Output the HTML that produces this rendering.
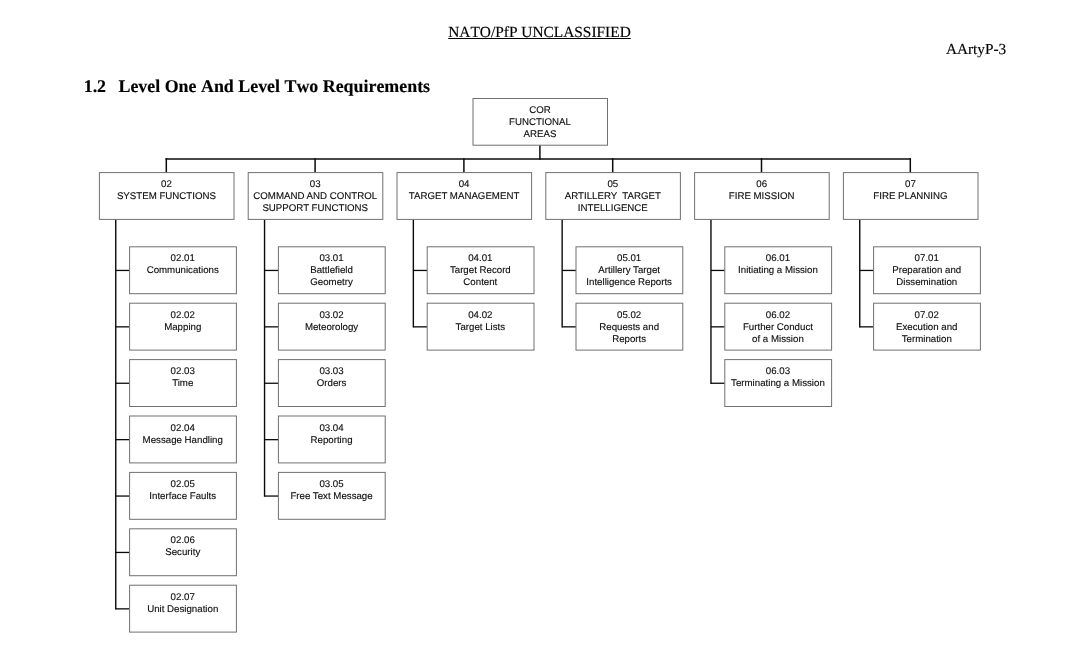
<!DOCTYPE html>
<html><head><meta charset="utf-8"><title>AArtyP-3</title>
<style>
html,body{margin:0;padding:0;background:#fff;}
body{width:1079px;height:651px;position:relative;overflow:hidden;font-family:"Liberation Sans",sans-serif;}
svg{position:absolute;left:0;top:0;}
#wrap{position:absolute;left:0;top:0;width:1079px;height:651px;will-change:transform;background:#fff;}
.t,.h{text-rendering:geometricPrecision;}
.t{position:absolute;text-align:center;font-family:"Liberation Sans",sans-serif;font-size:9.7px;line-height:11.9px;color:#0c0c0c;white-space:nowrap;-webkit-text-stroke:0.12px #0c0c0c;}
.h{position:absolute;font-family:"Liberation Serif",serif;color:#000;-webkit-text-stroke:0.15px #000;white-space:nowrap;line-height:1;font-kerning:none;}
#hdr{left:448.2px;top:24.5px;font-size:15.4px;text-decoration:underline;text-decoration-thickness:1px;text-underline-offset:0.6px;}
#doc{left:945.9px;top:42.0px;font-size:15.3px;}
#ttl{left:83.7px;top:78.2px;font-size:17.9px;font-weight:bold;}
#ttl span{display:inline-block;width:34.8px;}
</style></head><body><div id="wrap">
<div class="h" id="hdr">NATO/PfP UNCLASSIFIED</div>
<div class="h" id="doc">AArtyP-3</div>
<div class="h" id="ttl"><span>1.2</span>Level One And Level Two Requirements</div>
<svg width="1079" height="651" viewBox="0 0 1079 651">
<path d="M166.30 158.90L910.30 158.90" stroke="#0a0a0a" stroke-width="1.5" fill="none" stroke-linecap="square"/>
<path d="M539.90 145.20L539.90 158.90" stroke="#0a0a0a" stroke-width="1.5" fill="none" stroke-linecap="square"/>
<path d="M166.30 158.90L166.30 172.60" stroke="#0a0a0a" stroke-width="1.5" fill="none" stroke-linecap="square"/>
<path d="M115.75 219.40L115.75 609.50" stroke="#0a0a0a" stroke-width="1.4" fill="none" stroke-linecap="butt"/>
<path d="M115.75 270.45L129.60 270.45" stroke="#0a0a0a" stroke-width="1.3" fill="none" stroke-linecap="butt"/>
<path d="M115.75 326.85L129.60 326.85" stroke="#0a0a0a" stroke-width="1.3" fill="none" stroke-linecap="butt"/>
<path d="M115.75 383.25L129.60 383.25" stroke="#0a0a0a" stroke-width="1.3" fill="none" stroke-linecap="butt"/>
<path d="M115.75 439.65L129.60 439.65" stroke="#0a0a0a" stroke-width="1.3" fill="none" stroke-linecap="butt"/>
<path d="M115.75 496.05L129.60 496.05" stroke="#0a0a0a" stroke-width="1.3" fill="none" stroke-linecap="butt"/>
<path d="M115.75 552.45L129.60 552.45" stroke="#0a0a0a" stroke-width="1.3" fill="none" stroke-linecap="butt"/>
<path d="M115.75 608.85L129.60 608.85" stroke="#0a0a0a" stroke-width="1.3" fill="none" stroke-linecap="butt"/>
<path d="M315.10 158.90L315.10 172.60" stroke="#0a0a0a" stroke-width="1.5" fill="none" stroke-linecap="square"/>
<path d="M264.55 219.40L264.55 496.70" stroke="#0a0a0a" stroke-width="1.4" fill="none" stroke-linecap="butt"/>
<path d="M264.55 270.45L278.40 270.45" stroke="#0a0a0a" stroke-width="1.3" fill="none" stroke-linecap="butt"/>
<path d="M264.55 326.85L278.40 326.85" stroke="#0a0a0a" stroke-width="1.3" fill="none" stroke-linecap="butt"/>
<path d="M264.55 383.25L278.40 383.25" stroke="#0a0a0a" stroke-width="1.3" fill="none" stroke-linecap="butt"/>
<path d="M264.55 439.65L278.40 439.65" stroke="#0a0a0a" stroke-width="1.3" fill="none" stroke-linecap="butt"/>
<path d="M264.55 496.05L278.40 496.05" stroke="#0a0a0a" stroke-width="1.3" fill="none" stroke-linecap="butt"/>
<path d="M463.90 158.90L463.90 172.60" stroke="#0a0a0a" stroke-width="1.5" fill="none" stroke-linecap="square"/>
<path d="M413.35 219.40L413.35 327.50" stroke="#0a0a0a" stroke-width="1.4" fill="none" stroke-linecap="butt"/>
<path d="M413.35 270.45L427.20 270.45" stroke="#0a0a0a" stroke-width="1.3" fill="none" stroke-linecap="butt"/>
<path d="M413.35 326.85L427.20 326.85" stroke="#0a0a0a" stroke-width="1.3" fill="none" stroke-linecap="butt"/>
<path d="M612.70 158.90L612.70 172.60" stroke="#0a0a0a" stroke-width="1.5" fill="none" stroke-linecap="square"/>
<path d="M562.15 219.40L562.15 327.50" stroke="#0a0a0a" stroke-width="1.4" fill="none" stroke-linecap="butt"/>
<path d="M562.15 270.45L576.00 270.45" stroke="#0a0a0a" stroke-width="1.3" fill="none" stroke-linecap="butt"/>
<path d="M562.15 326.85L576.00 326.85" stroke="#0a0a0a" stroke-width="1.3" fill="none" stroke-linecap="butt"/>
<path d="M761.50 158.90L761.50 172.60" stroke="#0a0a0a" stroke-width="1.5" fill="none" stroke-linecap="square"/>
<path d="M710.95 219.40L710.95 383.90" stroke="#0a0a0a" stroke-width="1.4" fill="none" stroke-linecap="butt"/>
<path d="M710.95 270.45L724.80 270.45" stroke="#0a0a0a" stroke-width="1.3" fill="none" stroke-linecap="butt"/>
<path d="M710.95 326.85L724.80 326.85" stroke="#0a0a0a" stroke-width="1.3" fill="none" stroke-linecap="butt"/>
<path d="M710.95 383.25L724.80 383.25" stroke="#0a0a0a" stroke-width="1.3" fill="none" stroke-linecap="butt"/>
<path d="M910.30 158.90L910.30 172.60" stroke="#0a0a0a" stroke-width="1.5" fill="none" stroke-linecap="square"/>
<path d="M859.75 219.40L859.75 327.50" stroke="#0a0a0a" stroke-width="1.4" fill="none" stroke-linecap="butt"/>
<path d="M859.75 270.45L873.60 270.45" stroke="#0a0a0a" stroke-width="1.3" fill="none" stroke-linecap="butt"/>
<path d="M859.75 326.85L873.60 326.85" stroke="#0a0a0a" stroke-width="1.3" fill="none" stroke-linecap="butt"/>
<rect x="473.00" y="98.50" width="134.50" height="46.70" fill="#fff" stroke="#707070" stroke-width="1.0"/>
<rect x="99.40" y="172.60" width="134.60" height="46.80" fill="#fff" stroke="#707070" stroke-width="1.0"/>
<rect x="129.60" y="246.80" width="106.80" height="46.90" fill="#fff" stroke="#707070" stroke-width="1.0"/>
<rect x="129.60" y="303.20" width="106.80" height="46.90" fill="#fff" stroke="#707070" stroke-width="1.0"/>
<rect x="129.60" y="359.60" width="106.80" height="46.90" fill="#fff" stroke="#707070" stroke-width="1.0"/>
<rect x="129.60" y="416.00" width="106.80" height="46.90" fill="#fff" stroke="#707070" stroke-width="1.0"/>
<rect x="129.60" y="472.40" width="106.80" height="46.90" fill="#fff" stroke="#707070" stroke-width="1.0"/>
<rect x="129.60" y="528.80" width="106.80" height="46.90" fill="#fff" stroke="#707070" stroke-width="1.0"/>
<rect x="129.60" y="585.20" width="106.80" height="46.90" fill="#fff" stroke="#707070" stroke-width="1.0"/>
<rect x="248.20" y="172.60" width="134.60" height="46.80" fill="#fff" stroke="#707070" stroke-width="1.0"/>
<rect x="278.40" y="246.80" width="106.80" height="46.90" fill="#fff" stroke="#707070" stroke-width="1.0"/>
<rect x="278.40" y="303.20" width="106.80" height="46.90" fill="#fff" stroke="#707070" stroke-width="1.0"/>
<rect x="278.40" y="359.60" width="106.80" height="46.90" fill="#fff" stroke="#707070" stroke-width="1.0"/>
<rect x="278.40" y="416.00" width="106.80" height="46.90" fill="#fff" stroke="#707070" stroke-width="1.0"/>
<rect x="278.40" y="472.40" width="106.80" height="46.90" fill="#fff" stroke="#707070" stroke-width="1.0"/>
<rect x="397.00" y="172.60" width="134.60" height="46.80" fill="#fff" stroke="#707070" stroke-width="1.0"/>
<rect x="427.20" y="246.80" width="106.80" height="46.90" fill="#fff" stroke="#707070" stroke-width="1.0"/>
<rect x="427.20" y="303.20" width="106.80" height="46.90" fill="#fff" stroke="#707070" stroke-width="1.0"/>
<rect x="545.80" y="172.60" width="134.60" height="46.80" fill="#fff" stroke="#707070" stroke-width="1.0"/>
<rect x="576.00" y="246.80" width="106.80" height="46.90" fill="#fff" stroke="#707070" stroke-width="1.0"/>
<rect x="576.00" y="303.20" width="106.80" height="46.90" fill="#fff" stroke="#707070" stroke-width="1.0"/>
<rect x="694.60" y="172.60" width="134.60" height="46.80" fill="#fff" stroke="#707070" stroke-width="1.0"/>
<rect x="724.80" y="246.80" width="106.80" height="46.90" fill="#fff" stroke="#707070" stroke-width="1.0"/>
<rect x="724.80" y="303.20" width="106.80" height="46.90" fill="#fff" stroke="#707070" stroke-width="1.0"/>
<rect x="724.80" y="359.60" width="106.80" height="46.90" fill="#fff" stroke="#707070" stroke-width="1.0"/>
<rect x="843.40" y="172.60" width="134.60" height="46.80" fill="#fff" stroke="#707070" stroke-width="1.0"/>
<rect x="873.60" y="246.80" width="106.80" height="46.90" fill="#fff" stroke="#707070" stroke-width="1.0"/>
<rect x="873.60" y="303.20" width="106.80" height="46.90" fill="#fff" stroke="#707070" stroke-width="1.0"/>
</svg>
<div class="t" style="left:472.75px;top:105.10px;width:134.50px">COR<br>FUNCTIONAL<br>AREAS</div>
<div class="t" style="left:99.15px;top:179.20px;width:134.60px">02<br>SYSTEM FUNCTIONS</div>
<div class="t" style="left:129.35px;top:253.40px;width:106.80px">02.01<br>Communications</div>
<div class="t" style="left:129.35px;top:309.80px;width:106.80px">02.02<br>Mapping</div>
<div class="t" style="left:129.35px;top:366.20px;width:106.80px">02.03<br>Time</div>
<div class="t" style="left:129.35px;top:422.60px;width:106.80px">02.04<br>Message Handling</div>
<div class="t" style="left:129.35px;top:479.00px;width:106.80px">02.05<br>Interface Faults</div>
<div class="t" style="left:129.35px;top:535.40px;width:106.80px">02.06<br>Security</div>
<div class="t" style="left:129.35px;top:591.80px;width:106.80px">02.07<br>Unit Designation</div>
<div class="t" style="left:247.95px;top:179.20px;width:134.60px">03<br>COMMAND AND CONTROL<br>SUPPORT FUNCTIONS</div>
<div class="t" style="left:278.15px;top:253.40px;width:106.80px">03.01<br>Battlefield<br>Geometry</div>
<div class="t" style="left:278.15px;top:309.80px;width:106.80px">03.02<br>Meteorology</div>
<div class="t" style="left:278.15px;top:366.20px;width:106.80px">03.03<br>Orders</div>
<div class="t" style="left:278.15px;top:422.60px;width:106.80px">03.04<br>Reporting</div>
<div class="t" style="left:278.15px;top:479.00px;width:106.80px">03.05<br>Free Text Message</div>
<div class="t" style="left:396.75px;top:179.20px;width:134.60px">04<br>TARGET MANAGEMENT</div>
<div class="t" style="left:426.95px;top:253.40px;width:106.80px">04.01<br>Target Record<br>Content</div>
<div class="t" style="left:426.95px;top:309.80px;width:106.80px">04.02<br>Target Lists</div>
<div class="t" style="left:545.55px;top:179.20px;width:134.60px">05<br>ARTILLERY&nbsp; TARGET<br>INTELLIGENCE</div>
<div class="t" style="left:575.75px;top:253.40px;width:106.80px">05.01<br>Artillery Target<br>Intelligence Reports</div>
<div class="t" style="left:575.75px;top:309.80px;width:106.80px">05.02<br>Requests and<br>Reports</div>
<div class="t" style="left:694.35px;top:179.20px;width:134.60px">06<br>FIRE MISSION</div>
<div class="t" style="left:724.55px;top:253.40px;width:106.80px">06.01<br>Initiating a Mission</div>
<div class="t" style="left:724.55px;top:309.80px;width:106.80px">06.02<br>Further Conduct<br>of a Mission</div>
<div class="t" style="left:724.55px;top:366.20px;width:106.80px">06.03<br>Terminating a Mission</div>
<div class="t" style="left:843.15px;top:179.20px;width:134.60px">07<br>FIRE PLANNING</div>
<div class="t" style="left:873.35px;top:253.40px;width:106.80px">07.01<br>Preparation and<br>Dissemination</div>
<div class="t" style="left:873.35px;top:309.80px;width:106.80px">07.02<br>Execution and<br>Termination</div>
</div></body></html>
